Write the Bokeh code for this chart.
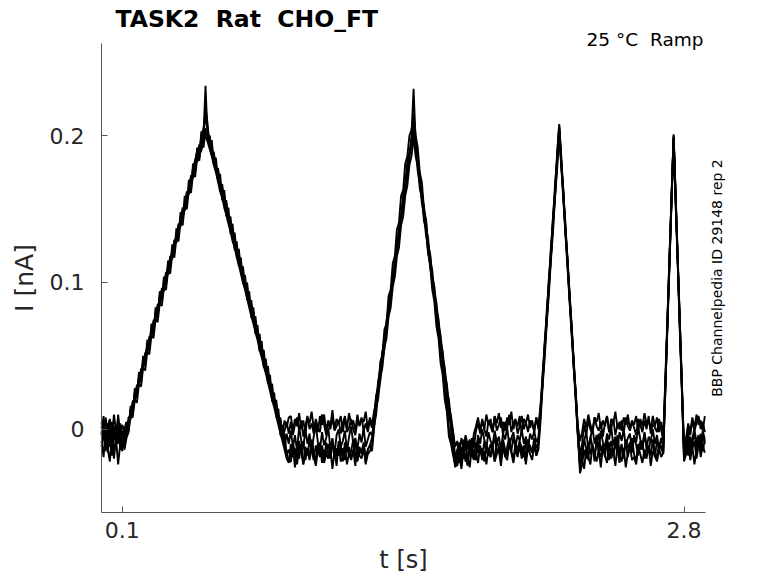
import numpy as np
from bokeh.plotting import figure
from bokeh.models import Range1d, FixedTicker, Label
from bokeh.embed import file_html
from bokeh.resources import INLINE

# ---------------- texts / ticks ----------------
NB = "\u00a0"
title_text = "TASK2 " + NB + "Rat " + NB + "CHO_FT"
condition_text = "25 °C " + NB + "Ramp"
source_text = "BBP Channelpedia ID 29148 rep 2"
x_label = "t [s]"
y_label = "I [nA]"
x_ticks = [0.1, 2.8]
x_tick_labels = ["0.1", "2.8"]
y_ticks = [0.0, 0.1, 0.2]
y_tick_labels = ["0", "0.1", "0.2"]

# sampling interval of the sweeps (s); values below are in pA
sample_interval_s = 0.01

sweep_1_pA = [
    2, -6, 8, -3, -12, 5, -1, -8, 6, -4, 3, -2,
    3, 2, 14, 13, 25, 24, 36, 35, 47, 46, 58, 57, 69, 68, 80, 79, 91, 90, 101, 102, 112, 113, 122, 124,
    133, 134, 144, 145, 150, 157, 161, 166, 178, 183, 190, 188, 200, 205, 212,
    205, 194, 193, 182, 181, 171, 170, 159, 160, 148, 147, 136, 137, 125, 124, 114, 113, 102, 101, 91,
    90, 79, 80, 68, 67, 56, 57, 45, 44, 34, 33, 22, 21, 11, 10, 4, -2, 6, 1, 8,
    9, -1, 7, 2, 11, 0, 6, -3, 8, 4, 12, 1, 5, -2, 9, 3, 10, -1, 6, 2,
    13, 0, 7, 4, 9, -2, 8, 1, 11, 3, 6, -1, 10, 2, 7, 5, 12, 0, 8, 3,
    12, 19, 33, 40, 53, 60, 74, 81, 94, 101, 115, 122, 135, 142, 156, 163, 177, 186, 200, 232,
    196, 185, 170, 163, 148, 141, 126, 119, 104, 97, 82, 75, 60, 53, 38, 31, 16, 9, -2, -12,
    -8, -16, -6, -13, -4, -11, -7, -14, -3, 2, 8, -1, 6, 0, 10, 3, 7, -2, 9, 4,
    11, 1, 5, -1, 8, 3, 12, 0, 6, 2, 9, -3, 7, 4, 10, 1, 6, -2, 8, 2,
    16, 34, 59, 77, 102, 120, 145, 163, 188, 208,
    186, 159, 140, 113, 94, 67, 48, 21, 2, -8,
    -2, 7, 1, 10, 3, -1, 8, 5, 11, 0, 6, 2, 9, -2, 7, 4, 12, 1, 5, -1,
    8, 3, 10, 0, 6, 3, 9, -1, 7, 2, 11, 4, 6, 0, 9, 2, 8, -2, 5, -6,
    34, 75, 118, 157, 201,
    158, 113, 72, 27, -12,
    -6, 4, -2, 8, 1, 10, 3, 6, -1, 9,
]

sweep_2_pA = [
    -4, 6, -9, 1, 7, -5, 10, -2, -10, 4, -6, 1,
    -3, 8, 9, 19, 20, 30, 31, 41, 42, 52, 53, 63, 64, 74, 75, 85, 86, 96, 96, 107, 106, 118, 117, 129,
    128, 140, 139, 151, 150, 162, 161, 173, 172, 184, 183, 194, 193, 203, 205,
    199, 200, 188, 188, 176, 177, 165, 165, 154, 154, 142, 142, 131, 131, 119, 120, 108, 108, 96, 97,
    85, 85, 74, 74, 62, 62, 51, 51, 39, 40, 28, 28, 16, 17, 5, 6, -5, -1, 5, -3,
    5, -4, 3, 8, -1, 6, -5, 2, 9, 0, 4, -3, 7, 1, -2, 10, 3, -4, 5, 0,
    8, -1, 2, 6, -3, 4, 9, -2, 1, 7, 0, -4, 5, 3, 8, -1, 4, -2, 6, 1,
    8, 23, 29, 43, 49, 64, 70, 84, 90, 105, 111, 125, 131, 146, 152, 166, 172, 187, 193, 205,
    197, 181, 174, 159, 152, 137, 130, 115, 108, 93, 86, 71, 64, 49, 42, 27, 20, 5, -2, -20,
    -14, -9, -20, -7, -15, -10, -18, -6, -12, -1, 4, -3, 7, 0, -5, 6, 2, -2, 9, -1,
    3, 8, -4, 5, 1, 10, -2, 4, 7, -3, 2, 9, 0, 5, -2, 6, 3, -1, 8, 0,
    12, 38, 55, 81, 98, 124, 141, 167, 184, 206,
    182, 163, 136, 117, 90, 71, 44, 25, -2, -18,
    -10, 3, -4, 6, 0, -3, 8, 2, -1, 5, -5, 4, 9, -2, 1, 7, -4, 3, 0, 6,
    -3, 8, 2, -1, 5, 1, -4, 7, 3, -2, 6, 0, 9, -3, 4, 1, -2, 7, 0, -8,
    30, 73, 116, 160, 199,
    156, 115, 70, 29, -18,
    -8, 2, -4, 6, -1, 4, 9, 0, 5, -2,
]

sweep_3_pA = [
    -12, -2, -15, 4, -8, -18, 0, -11, 3, -14, -6, -9,
    -4, 6, 7, 18, 19, 29, 30, 40, 41, 51, 52, 62, 63, 73, 74, 84, 85, 95, 94, 106, 105, 117, 116, 128,
    127, 139, 138, 150, 149, 161, 160, 172, 171, 183, 182, 193, 192, 200, 234,
    198, 200, 187, 189, 176, 178, 165, 167, 154, 156, 142, 145, 131, 134, 119, 123, 108, 111, 96, 100,
    85, 88, 74, 77, 62, 65, 51, 54, 39, 43, 28, 31, 16, 20, 5, 8, -6, -3, -17, -14,
    -20, -9, -17, -24, -11, -16, -8, -21, -13, -19, -7, -15, -23, -10, -18, -12, -22, -9, -16, -20,
    -11, -14, -25, -8, -17, -13, -21, -10, -19, -15, -7, -18, -22, -12, -16, -9, -20, -14, -11, -6,
    6, 19, 27, 40, 48, 61, 69, 82, 90, 103, 111, 124, 132, 145, 153, 166, 174, 187, 195, 210,
    195, 187, 170, 162, 145, 137, 120, 112, 95, 87, 70, 62, 45, 37, 20, 12, -5, -10, -18, -24,
    -22, -15, -25, -13, -19, -24, -11, -17, -21, -9, -16, -12, -20, -8, -15, -18, -10, -14, -22, -7,
    -13, -17, -9, -19, -12, -6, -15, -20, -10, -14, -8, -17, -11, -21, -7, -13, -16, -9, -18, -10,
    9, 33, 52, 76, 95, 119, 138, 162, 181, 205,
    183, 158, 137, 112, 91, 66, 45, 20, -4, -30,
    -24, -14, -20, -9, -17, -11, -22, -6, -15, -19, -10, -16, -8, -21, -13, -18, -7, -14, -23, -11,
    -16, -9, -19, -12, -6, -17, -22, -10, -14, -8, -20, -13, -11, -18, -7, -15, -21, -9, -13, -16,
    28, 71, 114, 157, 199,
    154, 113, 68, 27, -20,
    -14, -6, -18, -9, -3, -12, -7, -15, -4, -10,
]

sweep_4_pA = [
    5, -7, -3, -16, 2, -10, -20, -5, 8, -13, -1, -7,
    2, 1, 13, 12, 24, 23, 35, 34, 46, 45, 57, 56, 68, 67, 79, 78, 90, 89, 96, 103, 107, 114, 118, 125,
    129, 136, 140, 147, 151, 158, 162, 169, 173, 180, 184, 187, 190, 196, 200,
    196, 191, 186, 180, 175, 169, 162, 158, 151, 146, 140, 135, 128, 124, 117, 112, 106, 100, 95, 89,
    83, 77, 72, 66, 61, 54, 49, 43, 38, 32, 26, 20, 15, 9, 3, -3, -8, -14, -20, -23,
    -10, -19, -13, -22, -8, -16, -24, -12, -18, -7, -15, -21, -11, -17, -9, -23, -14, -19, -10, -16,
    -6, -20, -13, -18, -11, -22, -9, -15, -12, -19, -16, -8, -21, -13, -17, -10, -24, -14, -11, -15,
    0, 15, 21, 35, 42, 56, 62, 77, 83, 97, 104, 118, 124, 139, 145, 159, 166, 180, 186, 198,
    190, 176, 168, 154, 146, 132, 124, 110, 102, 88, 80, 66, 58, 44, 36, 22, 14, 0, -14, -26,
    -18, -23, -12, -20, -16, -25, -10, -19, -14, -21, -8, -17, -13, -22, -9, -15, -19, -11, -6, -16,
    -12, -20, -7, -14, -18, -10, -15, -5, -13, -17, -9, -12, -19, -8, -14, -11, -16, -6, -13, -9,
    11, 30, 54, 73, 97, 116, 140, 159, 183, 204,
    180, 160, 134, 114, 88, 68, 42, 22, -4, -24,
    -16, -7, -13, -21, -5, -12, -18, -9, -3, -15, -11, -19, -6, -14, -8, -17, -12, -4, -16, -10,
    -20, -7, -13, -9, -15, -5, -11, -18, -8, -14, -3, -12, -16, -6, -10, -19, -8, -13, -11, -17,
    26, 70, 112, 156, 198,
    160, 116, 74, 31, -14,
    -10, -18, -5, -13, -8, -20, -11, -3, -15, -7,
]

sweep_5_pA = [
    -3, 9, -14, -1, 6, -17, 2, -9, 10, -6, -15, 0,
    5, -1, 16, 10, 28, 21, 39, 32, 50, 43, 61, 54, 72, 65, 83, 76, 94, 87, 104, 98, 115, 109, 126, 120,
    137, 131, 148, 142, 159, 153, 170, 164, 181, 175, 192, 185, 203, 196, 220,
    208, 192, 197, 180, 185, 168, 174, 156, 163, 145, 151, 133, 140, 122, 128, 111, 117, 99, 105, 88,
    94, 76, 83, 65, 71, 53, 60, 42, 48, 31, 37, 19, 25, 8, 14, -4, 3, -12, -3, -10,
    -1, -12, -4, -15, 2, -8, -13, 0, -10, -3, -16, -5, 3, -9, -14, -2, -11, -6, 1, -13,
    -7, -17, -4, 0, -12, -8, -1, -15, -5, 2, -10, -6, -14, -3, -9, 1, -12, -7, -2, -4,
    4, 21, 25, 46, 50, 68, 72, 91, 95, 113, 118, 136, 141, 159, 163, 181, 186, 200, 204, 215,
    200, 192, 175, 168, 150, 143, 125, 118, 100, 93, 75, 68, 50, 43, 25, 18, 0, -7, -16, -22,
    -19, -11, -23, -14, -8, -20, -12, -17, -9, -15, -4, -10, 0, -7, -13, -2, -8, -11, -1, -9,
    -5, -14, -3, -7, 1, -11, -6, -2, -12, -4, -8, 0, -10, -5, -13, -3, -7, -1, -9, -6,
    14, 31, 57, 74, 100, 117, 143, 160, 186, 207,
    181, 162, 135, 116, 89, 70, 43, 24, -3, -26,
    -18, -8, -2, -13, -6, 1, -10, -4, -15, -1, -9, -12, -3, -7, 2, -11, -5, -14, -2, -8,
    0, -12, -6, -3, -16, -4, -9, 1, -7, -11, -2, -13, -5, -8, 0, -10, -4, -14, -6, -12,
    29, 72, 115, 158, 200,
    157, 114, 71, 28, -16,
    -11, -2, -15, -6, 0, -9, -4, -13, -1, -7,
]

sweep_6_pA = [
    -8, -19, 1, -13, -22, -4, -16, -7, -24, -10, -2, -14,
    -6, -2, 9, 8, 20, 18, 31, 29, 42, 40, 53, 51, 64, 62, 75, 73, 86, 84, 97, 95, 108, 106, 119, 117,
    130, 128, 141, 139, 152, 150, 163, 161, 174, 172, 185, 183, 196, 192, 203,
    200, 193, 189, 181, 177, 170, 166, 158, 155, 147, 143, 136, 132, 124, 121, 113, 109, 102, 98, 90,
    87, 79, 75, 68, 64, 56, 53, 45, 41, 34, 30, 22, 19, 11, 7, 0, -4, -12, -16, -22,
    -22, -12, -26, -15, -20, -10, -24, -17, -13, -21, -9, -18, -25, -14, -19, -11, -23, -16, -20, -13,
    -27, -15, -18, -10, -22, -19, -12, -24, -16, -21, -14, -25, -11, -18, -20, -13, -23, -17, -15, -12,
    2, 10, 25, 33, 47, 55, 70, 78, 92, 100, 115, 123, 137, 145, 160, 168, 182, 189, 196, 200,
    186, 180, 164, 158, 142, 136, 120, 114, 98, 92, 76, 70, 54, 48, 32, 26, 10, 4, -13, -24,
    -25, -18, -27, -14, -22, -19, -26, -12, -20, -16, -23, -11, -21, -15, -24, -13, -19, -10, -22, -17,
    -14, -25, -12, -18, -21, -9, -16, -23, -13, -19, -11, -20, -15, -24, -12, -17, -21, -10, -18, -14,
    5, 29, 48, 72, 91, 115, 134, 158, 177, 201,
    179, 156, 133, 110, 87, 64, 41, 18, -6, -24,
    -21, -27, -13, -19, -24, -10, -17, -22, -14, -26, -12, -18, -23, -9, -20, -15, -25, -11, -18, -22,
    -13, -26, -16, -10, -21, -19, -24, -12, -17, -23, -14, -20, -11, -25, -15, -18, -22, -13, -19, -16,
    25, 69, 111, 155, 197,
    152, 111, 66, 25, -22,
    -17, -9, -21, -12, -24, -14, -6, -19, -11, -16,
]

sweeps = [sweep_1_pA, sweep_2_pA, sweep_3_pA, sweep_4_pA, sweep_5_pA, sweep_6_pA]

FONT = "DejaVu Sans"
AX_COLOR = "#555555"
TXT_COLOR = "#262626"

# axis extents (s / nA); the frame fills the whole canvas so it also holds the texts
X_AXIS_START, X_AXIS_END = 0.0, 2.903
Y_AXIS_START, Y_AXIS_END = -0.0568, 0.2629

p = figure(width=770, height=575, output_backend="svg", toolbar_location=None,
           x_range=Range1d(-0.4855, 3.0955), y_range=Range1d(-0.0997, 0.2922),
           min_border_left=0, min_border_right=25, min_border_top=0, min_border_bottom=0)
p.title.visible = False
p.background_fill_color = "white"
p.border_fill_color = "white"
p.outline_line_color = None
p.xgrid.visible = False
p.ygrid.visible = False

for s in sweeps:
    vals = np.array(s, dtype=float) / 1000.0
    times = np.round(np.arange(len(vals)) * sample_interval_s, 3)
    p.line(times, vals, line_color="black", line_width=1.9)

p.xaxis.ticker = FixedTicker(ticks=x_ticks)
p.xaxis.major_label_overrides = {k: v for k, v in zip(x_ticks, x_tick_labels)}
p.yaxis.ticker = FixedTicker(ticks=y_ticks)
p.yaxis.major_label_overrides = {k: v for k, v in zip(y_ticks, y_tick_labels)}
p.xaxis.bounds = (X_AXIS_START, X_AXIS_END)
p.yaxis.bounds = (Y_AXIS_START, Y_AXIS_END)
p.xaxis.fixed_location = Y_AXIS_START
p.yaxis.fixed_location = X_AXIS_START
for ax in (p.xaxis[0], p.yaxis[0]):
    ax.axis_line_color = AX_COLOR
    ax.axis_line_width = 1
    ax.major_tick_line_color = AX_COLOR
    ax.major_tick_in = 6
    ax.major_tick_out = 0
    ax.minor_tick_line_color = None
    ax.major_label_text_font = FONT
    ax.major_label_text_font_size = "22px"
    ax.major_label_text_color = TXT_COLOR
    ax.axis_label_text_font = FONT
    ax.axis_label_text_font_style = "normal"
    ax.axis_label_text_color = TXT_COLOR
p.xaxis.major_label_standoff = 9
p.yaxis.major_label_standoff = 17
p.xaxis.axis_label = x_label
p.xaxis.axis_label_text_font_size = "24px"
p.xaxis.axis_label_standoff = 5
p.yaxis.axis_label = y_label
p.yaxis.axis_label_text_font_size = "25px"
p.yaxis.axis_label_standoff = 8

# texts inside the frame; screen offsets from the frame's bottom-left
p.add_layout(Label(x=115, y=557, x_units="screen", y_units="screen", text=title_text,
                   text_font=FONT, text_font_size="23.5px", text_font_style="bold",
                   text_color="black", text_align="left", text_baseline="alphabetic"))
p.add_layout(Label(x=703, y=536, x_units="screen", y_units="screen", text=condition_text,
                   text_font=FONT, text_font_size="18.5px", text_color="black",
                   text_align="right", text_baseline="alphabetic"))
p.add_layout(Label(x=716.5, y=297.5, x_units="screen", y_units="screen", text=source_text,
                   text_font=FONT, text_font_size="14px", text_color="black", angle=np.pi / 2,
                   text_align="center", text_baseline="middle"))

open("out.html", "w").write(file_html(p, INLINE))
